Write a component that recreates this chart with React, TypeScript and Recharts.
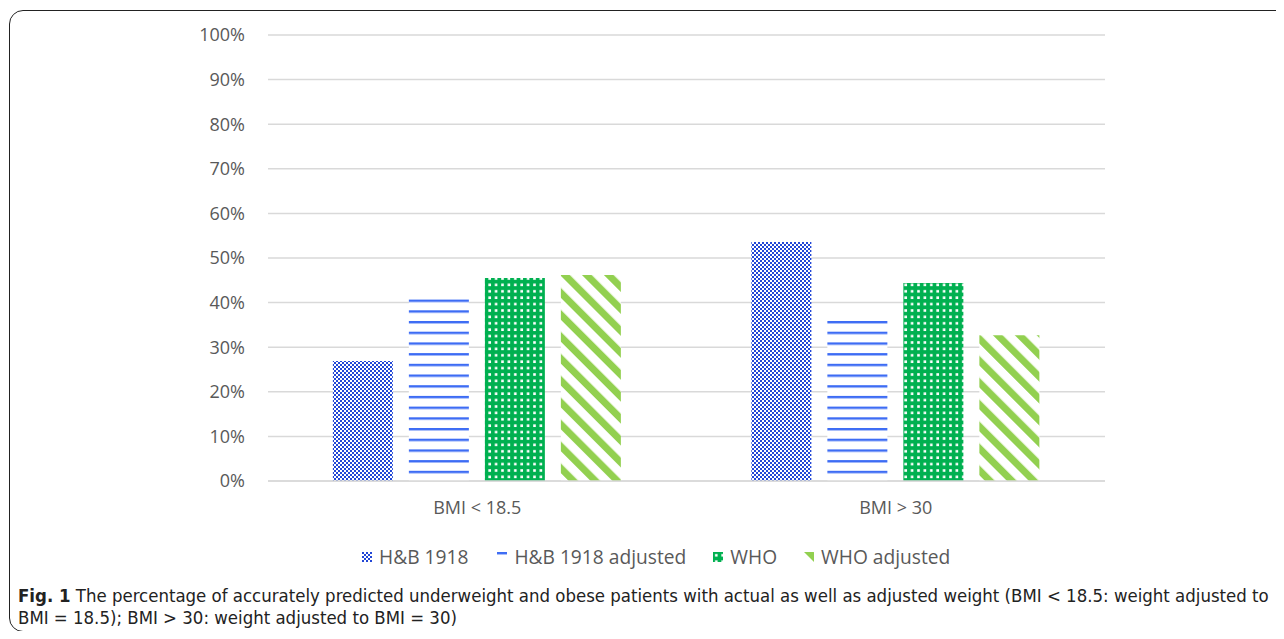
import { BarChart, Bar, XAxis, YAxis, CartesianGrid } from "recharts"

const categories = ["BMI < 18.5", "BMI > 30"]
const hb1918 = [26.9, 53.6]
const hb1918Adjusted = [41.3, 36.1]
const who = [45.5, 44.4]
const whoAdjusted = [46.2, 32.7]
const yTicks = [0, 10, 20, 30, 40, 50, 60, 70, 80, 90, 100]

const series = [
  { key: "hb", name: "H&B 1918", fill: "url(#pat-checker)" },
  { key: "hbAdj", name: "H&B 1918 adjusted", fill: "url(#pat-hlines)" },
  { key: "who", name: "WHO", fill: "url(#pat-grid)" },
  { key: "whoAdj", name: "WHO adjusted", fill: "url(#pat-diag)" },
]

// space after each legend entry, as in the original layout
const legendGaps = [29, 27, 27, 0]

const data = categories.map((c, i) => ({
  name: c,
  hb: hb1918[i],
  hbAdj: hb1918Adjusted[i],
  who: who[i],
  whoAdj: whoAdjusted[i],
}))

const font = "'Open Sans', 'Liberation Sans', sans-serif"
const textColor = "#595959"

function Patterns() {
  return (
    <svg width={0} height={0} style={{ position: "absolute" }}>
      <defs>
        <pattern id="pat-checker" width={4} height={4} patternUnits="userSpaceOnUse">
          <rect width={4} height={4} fill="#ffffff" />
          <rect x={0} y={0} width={2} height={2} fill="#2247d6" />
          <rect x={2} y={2} width={2} height={2} fill="#2247d6" />
        </pattern>
        <pattern id="pat-hlines" width={4} height={10.7} patternUnits="userSpaceOnUse">
          <rect width={4} height={10.7} fill="#ffffff" />
          <rect x={0} y={0} width={4} height={2.4} fill="#3d6cf4" />
        </pattern>
        <pattern id="pat-grid" width={6.4} height={6.4} patternUnits="userSpaceOnUse">
          <rect width={6.4} height={6.4} fill="#00b050" />
          <rect x={2} y={2} width={2.6} height={2.6} fill="#ffffff" />
        </pattern>
        <pattern
          id="pat-diag"
          width={15.5}
          height={10}
          patternUnits="userSpaceOnUse"
          patternTransform="rotate(-45)"
        >
          <rect width={15.5} height={10} fill="#ffffff" />
          <rect x={0} y={0} width={7} height={10} fill="#92d050" />
        </pattern>
      </defs>
    </svg>
  )
}

export default function App() {
  return (
    <div style={{ position: "relative", width: 1276, height: 623, fontFamily: font }}>
      <Patterns />
      <div
        style={{
          position: "absolute",
          left: 1,
          top: 2,
          width: 1320,
          height: 622,
          border: "1.5px solid #222",
          borderRadius: "14px 0 0 14px",
          boxSizing: "border-box",
        }}
      />
      <div style={{ position: "absolute", left: -8, top: -8 }}>
        <BarChart
          width={1284}
          height={530}
          data={data}
          margin={{ top: 35, right: 179, bottom: 0, left: 0 }}
          barCategoryGap="15.5%"
          barGap={16}
        >
          <CartesianGrid vertical={false} stroke="#d9d9d9" strokeWidth={1.5} />
          <XAxis
            dataKey="name"
            height={49}
            tickLine={false}
            tickSize={0}
            tickMargin={20}
            axisLine={{ stroke: "#d9d9d9", strokeWidth: 1.5 }}
            tick={{ fill: textColor, fontSize: 18, fontFamily: font }}
          />
          <YAxis
            width={268}
            domain={[0, 100]}
            ticks={yTicks}
            interval={0}
            tickFormatter={(v) => `${v}%`}
            axisLine={false}
            tickLine={false}
            tickSize={0}
            tickMargin={23}
            tick={{ fill: textColor, fontSize: 18, fontFamily: font }}
          />
          {series.map((s) => (
            <Bar key={s.key} dataKey={s.key} name={s.name} fill={s.fill} isAnimationActive={false} />
          ))}
        </BarChart>
      </div>
      <div
        style={{
          position: "absolute",
          left: 354,
          top: 535,
          display: "flex",
          alignItems: "center",
          color: textColor,
          fontSize: 19.2,
          whiteSpace: "nowrap",
        }}
      >
        {series.map((s, i) => (
          <div key={s.key} style={{ display: "flex", alignItems: "center", marginRight: legendGaps[i] }}>
            <svg width={10} height={10} style={{ marginRight: 7 }}>
              <rect width={10} height={10} fill={s.fill} />
            </svg>
            <span>{s.name}</span>
          </div>
        ))}
      </div>
      <div
        style={{
          position: "absolute",
          left: 10,
          top: 577,
          fontFamily: "'Liberation Sans Narrow', 'DejaVu Sans Condensed', sans-serif",
          fontSize: 18.45,
          lineHeight: "22px",
          color: "#222",
          whiteSpace: "nowrap",
        }}
      >
        <div>
          <b>Fig. 1</b> The percentage of accurately predicted underweight and obese patients with actual as well as
          adjusted weight (BMI &lt; 18.5: weight adjusted to
        </div>
        <div>BMI = 18.5); BMI &gt; 30: weight adjusted to BMI = 30)</div>
      </div>
    </div>
  )
}
